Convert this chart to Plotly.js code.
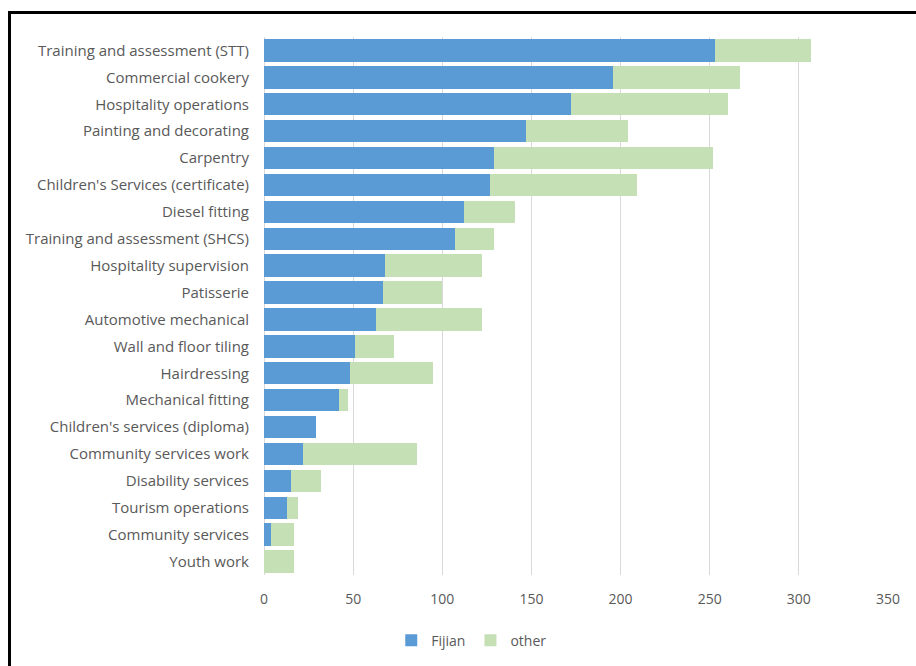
<!DOCTYPE html>
<html>
<head>
<meta charset="utf-8">
<script src="https://cdn.plot.ly/plotly-3.0.1.min.js"></script>
<style>
html,body{margin:0;padding:0;background:#fff;width:916px;height:666px;overflow:hidden;}
#frame{position:absolute;left:8px;top:11px;width:1200px;height:1200px;border:3px solid #000;box-sizing:border-box;}
#chart{position:absolute;left:0;top:0;width:916px;height:666px;}
</style>
</head>
<body>
<div id="frame"></div>
<div id="chart"></div>
<script>
const categories = [
  "Training and assessment (STT)",
  "Commercial cookery",
  "Hospitality operations",
  "Painting and decorating",
  "Carpentry",
  "Children's Services (certificate)",
  "Diesel fitting",
  "Training and assessment (SHCS)",
  "Hospitality supervision",
  "Patisserie",
  "Automotive mechanical",
  "Wall and floor tiling",
  "Hairdressing",
  "Mechanical fitting",
  "Children's services (diploma)",
  "Community services work",
  "Disability services",
  "Tourism operations",
  "Community services",
  "Youth work"
];
const fijian = [253, 196, 172, 147, 129, 127, 112, 107, 68, 67, 63, 51, 48, 42, 29, 22, 15, 13, 4, 0];
const other  = [54, 71, 88, 57, 123, 82, 29, 22, 54, 33, 59, 22, 47, 5, 0, 64, 17, 6, 13, 17];
const xTicks = [0, 50, 100, 150, 200, 250, 300, 350];

const FONT = "'Open Sans', sans-serif";

const traces = [
  {type:'bar', orientation:'h', name:'Fijian', y:categories, x:fijian,
   marker:{color:'#5b9bd5', line:{color:'#ffffff', width:0}}},
  {type:'bar', orientation:'h', name:'other', y:categories, x:other,
   marker:{color:'#c5e0b4', line:{color:'#ffffff', width:0}}}
];

const layout = {
  width:916, height:666,
  paper_bgcolor:'rgba(0,0,0,0)', plot_bgcolor:'rgba(0,0,0,0)',
  barmode:'stack', bargap:0.17,
  margin:{l:264, r:28, t:37, b:91},
  font:{family:FONT, size:14, color:'#595959'},
  showlegend:true,
  legend:{orientation:'h', x:0.515, xref:'container', xanchor:'center', y:0.038, yref:'container', yanchor:'middle',
          font:{size:14, color:'#595959'}, itemwidth:30, traceorder:'normal'},
  xaxis:{range:[0,350], tickvals:xTicks, ticktext:xTicks.map(String), showgrid:true, gridcolor:'#d9d9d9', gridwidth:1,
         zeroline:true, zerolinecolor:'#d9d9d9', showline:false, ticks:'', ticklabelstandoff:14, fixedrange:true},
  yaxis:{type:'category', autorange:'reversed', showgrid:false, zeroline:false, showline:false, ticks:'',
         ticklabelstandoff:14, tickfont:{size:15}, fixedrange:true}
};

Plotly.newPlot('chart', traces, layout, {displayModeBar:false, staticPlot:true});
</script>
</body>
</html>
